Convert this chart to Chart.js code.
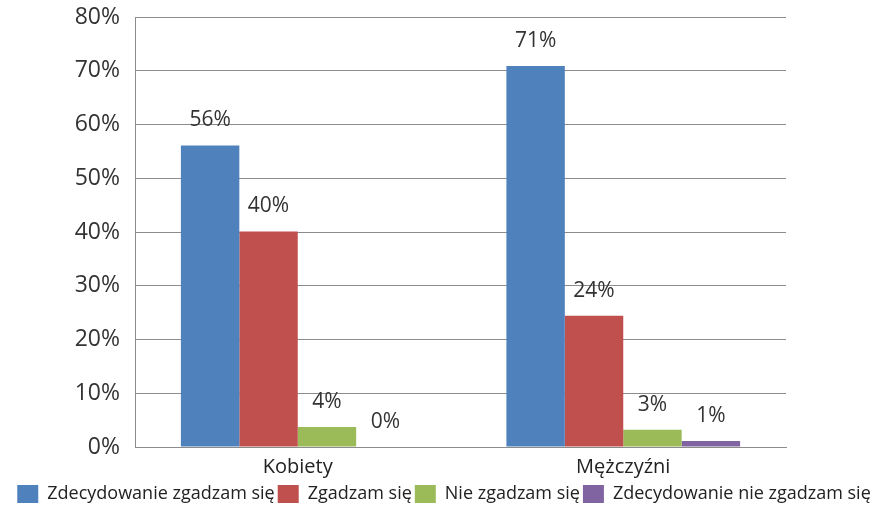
<!DOCTYPE html>
<html>
<head>
<meta charset="utf-8">
<script src="https://cdn.jsdelivr.net/npm/chart.js@4.4.0/dist/chart.umd.min.js"></script>
<style>
  html, body { margin: 0; padding: 0; background: #fff; }
  #wrap { width: 888px; height: 507px; }
</style>
</head>
<body>
<div id="wrap"><canvas id="myChart" width="888" height="507"></canvas></div>
<script>
// chart data
var categories = ['Kobiety', 'Mężczyźni'];
var seriesNames = ['Zdecydowanie zgadzam się', 'Zgadzam się', 'Nie zgadzam się', 'Zdecydowanie nie zgadzam się'];
var strongAgree = [56.1, 70.9];
var agree = [40.1, 24.4];
var disagree = [3.7, 3.2];
var strongDisagree = [0, 1.1];
var pointLabels = [['56%', '71%'], ['40%', '24%'], ['4%', '3%'], ['0%', '1%']];
var yTicks = [0, 10, 20, 30, 40, 50, 60, 70, 80];

var colors = ['#4F81BD', '#C0504D', '#9BBB59', '#8064A2'];
var fontName = '"Open Sans", "Noto Sans", sans-serif';

// draws the value labels above each bar
var barLabels = {
    id: 'barLabels',
    afterDatasetsDraw: function(chart) {
        var ctx = chart.ctx;
        ctx.save();
        ctx.font = '21px ' + fontName;
        ctx.fillStyle = '#333';
        ctx.textAlign = 'center';
        ctx.textBaseline = 'middle';
        chart.data.datasets.forEach(function(ds, i) {
            var meta = chart.getDatasetMeta(i);
            meta.data.forEach(function(bar, j) {
                ctx.fillText(pointLabels[i][j], bar.x, bar.y - 25);
            });
        });
        ctx.restore();
    }
};

var dataSets = [strongAgree, agree, disagree, strongDisagree].map(function(values, i) {
    return {
        label: seriesNames[i],
        data: values,
        backgroundColor: colors[i],
        borderWidth: 0,
        categoryPercentage: 0.718,
        barPercentage: 1.0
    };
});

var ctx = document.getElementById('myChart').getContext('2d');
var myChart = new Chart(ctx, {
    type: 'bar',
    data: { labels: categories, datasets: dataSets },
    plugins: [barLabels],
    options: {
        responsive: false,
        animation: false,
        layout: { padding: { top: 0, left: 0, right: 0, bottom: -6 } },
        plugins: {
            tooltip: { enabled: false },
            legend: {
                position: 'bottom',
                labels: {
                    boxWidth: 21,
                    boxHeight: 18,
                    padding: 3,
                    color: '#222',
                    font: { family: fontName, size: 18 }
                }
            }
        },
        scales: {
            x: {
                grid: { display: false },
                border: { display: true, color: '#8c8c8c', width: 1 },
                ticks: { color: '#222', padding: 0, font: { family: fontName, size: 20 } },
                afterFit: function(scale) { scale.height = 35; }
            },
            y: {
                min: 0,
                max: 80,
                afterBuildTicks: function(scale) {
                    scale.ticks = yTicks.map(function(v) { return { value: v }; });
                },
                grid: { color: '#8c8c8c', lineWidth: 1, drawTicks: false },
                border: { display: true, color: '#8c8c8c', width: 1 },
                ticks: {
                    color: '#333',
                    padding: 15,
                    font: { family: fontName, size: 23 },
                    callback: function(v) { return v + '%'; }
                },
                afterFit: function(scale) {
                    scale.width = 135;
                    scale.paddingTop = 17;
                    scale.paddingBottom = 0;
                }
            },
            yRight: {
                position: 'right',
                grid: { display: false },
                border: { display: false },
                ticks: { display: false },
                afterFit: function(scale) { scale.width = 102; }
            }
        }
    }
});
</script>
</body>
</html>
